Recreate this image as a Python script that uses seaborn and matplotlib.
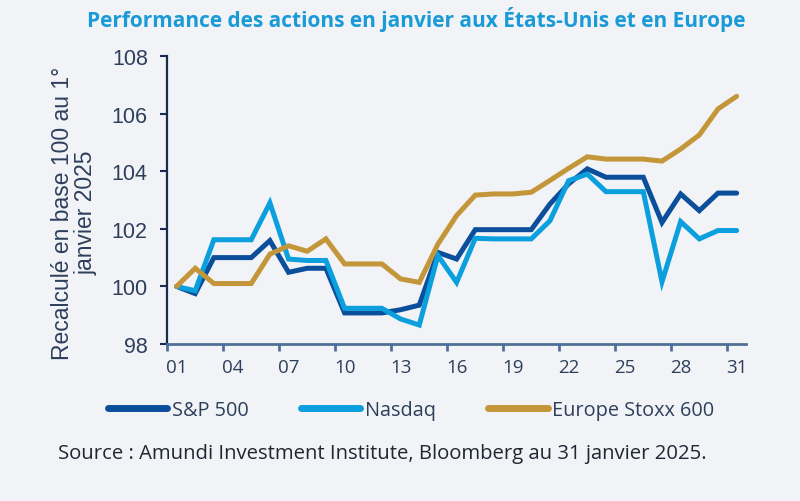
import numpy as np
import pandas as pd
import matplotlib
matplotlib.use("Agg")
import matplotlib.pyplot as plt
import seaborn as sns
from matplotlib.lines import Line2D

days = list(range(1, 32))
day_labels = ["01", "04", "07", "10", "13", "16", "19", "22", "25", "28", "31"]

sp500 = [100.0, 99.75, 101.0, 101.0, 101.0, 101.59, 100.49, 100.63, 100.63, 99.08,
         99.08, 99.08, 99.19, 99.35, 101.18, 100.95, 101.97, 101.97, 101.97, 101.97,
         102.86, 103.56, 104.08, 103.79, 103.79, 103.79, 102.22, 103.21, 102.63, 103.24, 103.24]
nasdaq = [100.0, 99.85, 101.62, 101.62, 101.62, 102.9, 100.95, 100.9, 100.9, 99.24,
          99.24, 99.24, 98.87, 98.66, 101.07, 100.14, 101.67, 101.65, 101.65, 101.65,
          102.28, 103.67, 103.9, 103.29, 103.29, 103.29, 100.16, 102.25, 101.65, 101.94, 101.94]
stoxx = [100.0, 100.63, 100.1, 100.1, 100.1, 101.12, 101.41, 101.22, 101.65, 100.78,
         100.78, 100.78, 100.26, 100.14, 101.47, 102.46, 103.17, 103.21, 103.21, 103.27,
         103.68, 104.1, 104.5, 104.42, 104.42, 104.42, 104.35, 104.77, 105.26, 106.16, 106.6]

series_names = ["S&P 500", "Nasdaq", "Europe Stoxx 600"]
colors = ["#0b4f9c", "#0ba0dd", "#c4963a"]

df = pd.concat([
    pd.DataFrame({"jour": days, "valeur": vals, "indice": name})
    for name, vals in zip(series_names, [sp500, nasdaq, stoxx])
])

bg = "#f1f3f6"
txt = "#2e3f5c"

sns.set_theme(style="white")
plt.rcParams["font.family"] = ["Liberation Sans", "DejaVu Sans"]

fig = plt.figure(figsize=(8, 5.02), dpi=100, facecolor=bg)
ax = fig.add_axes([0.209, 0.3127, 0.7235, 0.5738])
ax.set_facecolor(bg)

sns.lineplot(data=df, x="jour", y="valeur", hue="indice", palette=colors,
             hue_order=series_names, linewidth=3.6, ax=ax, legend=False,
             solid_capstyle="round", solid_joinstyle="miter")

ax.set_xlim(0.5, 31.5)
ax.set_ylim(98, 108)
ax.set_yticks([98, 100, 102, 104, 106, 108])
ax.set_yticklabels(["98", "100", "102", "104", "106", "108"],
                   fontsize=15.5, color=txt, family=["Liberation Sans"])

label_pos = [1, 4, 7, 10, 13, 16, 19, 22, 25, 28, 31]
ax.set_xticks(label_pos)
ax.set_xticklabels(day_labels, fontsize=13.5, color=txt, family=["Open Sans"])
ax.set_xticks([p - 0.5 for p in label_pos], minor=True)
ax.tick_params(axis="x", which="major", length=0, pad=10)
ax.tick_params(axis="x", which="minor", length=5, width=2, color="#4f7096", bottom=True)
ax.tick_params(axis="y", length=5, width=1.5, color="#1b2b4f", left=True, pad=9)

for s in ["top", "right"]:
    ax.spines[s].set_visible(False)
ax.spines["left"].set_color("#1b2b4f")
ax.spines["left"].set_linewidth(1.6)
ax.spines["bottom"].set_color("#4f7096")
ax.spines["bottom"].set_linewidth(2)

ax.set_xlabel("")
ax.set_ylabel("Recalculé en base 100 au 1°\njanvier 2025", fontsize=16.5,
              color=txt, linespacing=1.0)
ax.yaxis.set_label_coords(-0.121, 0.458)

fig.text(0.52, 0.962, "Performance des actions en janvier aux États-Unis et en Europe",
         ha="center", va="center", fontsize=15, fontweight="bold", color="#1a9ad7",
         family=["Open Sans"])

handles = [Line2D([0], [0], color=c, lw=5, solid_capstyle="round") for c in colors]
fig.legend(handles, series_names, loc="center", bbox_to_anchor=(0.514, 0.181),
           ncol=3, frameon=False, handlelength=3.0, handletextpad=0.25,
           columnspacing=2.6, prop={"family": "Open Sans", "size": 14.3}, labelcolor=txt)

fig.text(0.0725, 0.096, "Source : Amundi Investment Institute, Bloomberg au 31 janvier 2025.",
         ha="left", va="center", fontsize=14.6, color="#1f2733", family=["Open Sans"])

fig.savefig("out.png", dpi=100, facecolor=bg)
